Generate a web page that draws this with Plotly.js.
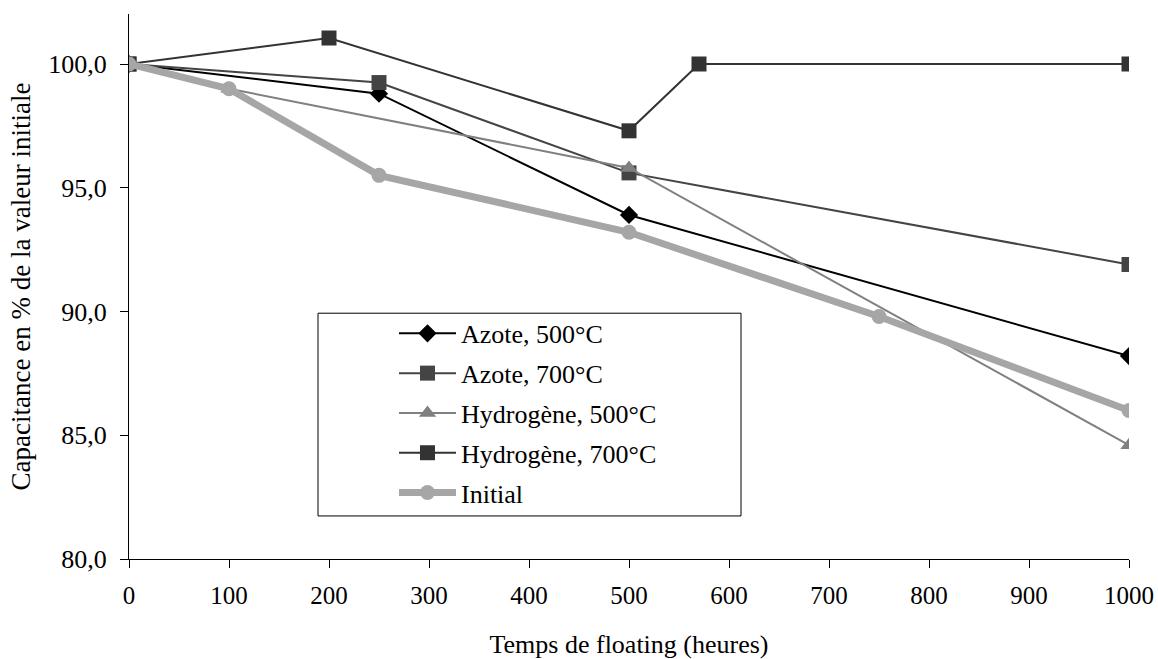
<!DOCTYPE html>
<html>
<head>
<meta charset="utf-8">
<script src="https://cdn.plot.ly/plotly-3.0.1.min.js"></script>
<style>html,body{margin:0;padding:0;background:#fff;}#chart{width:1158px;height:659px;}</style>
</head>
<body>
<div id="chart"></div>
<script>
const azote500X = [0, 250, 500, 1000];
const azote500Y = [100, 98.8, 93.9, 88.2];
const azote700X = [0, 250, 500, 1000];
const azote700Y = [100, 99.25, 95.6, 91.9];
const hydro500X = [0, 100, 500, 1000];
const hydro500Y = [100, 99.0, 95.8, 84.6];
const hydro700X = [0, 200, 500, 570, 1000];
const hydro700Y = [100, 101.05, 97.3, 100, 100];
const initialX = [0, 100, 250, 500, 750, 1000];
const initialY = [100, 99.0, 95.5, 93.2, 89.8, 86.0];
const xTicks = [0, 100, 200, 300, 400, 500, 600, 700, 800, 900, 1000];
const yTicks = [80, 85, 90, 95, 100];

const font = '"Liberation Serif", "Times New Roman", serif';
const traces = [
  {x: azote500X, y: azote500Y, name: 'Azote, 500°C', legendgroup: 'a', mode: 'lines+markers',
   line: {color: '#000000', width: 2}, marker: {symbol: 'diamond', size: 14, color: '#000000'}},
  {x: azote700X, y: azote700Y, name: 'Azote, 700°C', legendgroup: 'b', mode: 'lines+markers',
   line: {color: '#444444', width: 2}, marker: {symbol: 'square', size: 15, color: '#444444'}},
  {x: hydro500X, y: hydro500Y, name: 'Hydrogène, 500°C', legendgroup: 'c', mode: 'lines+markers',
   line: {color: '#808080', width: 2}, marker: {symbol: 'triangle-up', size: 15, color: '#808080'}},
  {x: hydro700X, y: hydro700Y, name: 'Hydrogène, 700°C', legendgroup: 'd', mode: 'lines+markers',
   line: {color: '#333333', width: 2}, marker: {symbol: 'square', size: 15, color: '#333333'}},
  {x: initialX, y: initialY, name: 'Initial', legendgroup: 'e', mode: 'lines+markers',
   line: {color: '#a6a6a6', width: 7}, marker: {symbol: 'circle', size: 15, color: '#a6a6a6'}}
];

const layout = {
  width: 1158, height: 659,
  margin: {l: 129, r: 29, t: 14, b: 100},
  paper_bgcolor: '#ffffff', plot_bgcolor: '#ffffff',
  separators: ', ',
  font: {family: font, size: 26, color: '#000000'},
  showlegend: true,
  xaxis: {
    range: [0, 1000], tickvals: xTicks, ticks: 'outside', ticklen: 8, tickcolor: '#000',
    showgrid: false, zeroline: false, showline: true, linecolor: '#000', linewidth: 1,
    tickfont: {family: font, size: 25}, automargin: false, ticklabelstandoff: 6,
    title: {text: 'Temps de floating (heures)', font: {family: font, size: 26}, standoff: 26}
  },
  yaxis: {
    range: [80, 102.02], tickvals: yTicks, tickformat: '.1f', ticks: 'outside', ticklen: 8, tickcolor: '#000',
    showgrid: false, zeroline: false, showline: true, linecolor: '#000', linewidth: 1,
    tickfont: {family: font, size: 26}, automargin: false, ticklabelstandoff: 8,
    title: {text: 'Capacitance en % de la valeur initiale', font: {family: font, size: 27}, standoff: 9}
  },
  legend: {
    x: 0.265, y: 0.457, xanchor: 'left', yanchor: 'top',
    bgcolor: 'rgba(0,0,0,0)', borderwidth: 0, itemwidth: 57,
    traceorder: 'grouped', tracegroupgap: 3,
    font: {family: font, size: 26}
  },
  shapes: [{
    type: 'rect', xref: 'paper', yref: 'paper',
    x0: 0.189, x1: 0.612, y0: 0.079, y1: 0.451,
    line: {color: '#000', width: 1}, fillcolor: '#ffffff', layer: 'below'
  }]
};

Plotly.newPlot('chart', traces, layout, {displayModeBar: false, staticPlot: true});
</script>
</body>
</html>
